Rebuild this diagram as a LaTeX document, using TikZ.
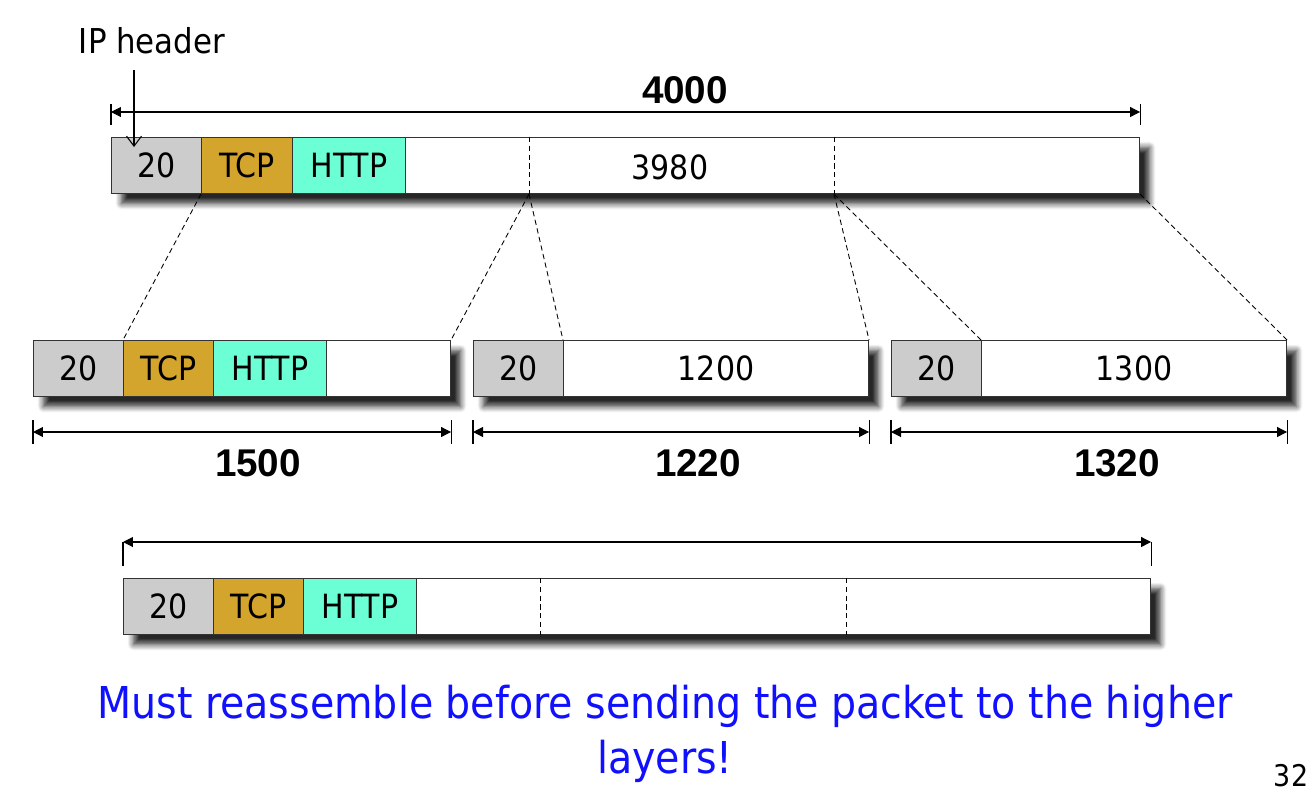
\documentclass[tikz,border=0pt]{standalone}
\usepackage{fontspec}
\setmainfont{DejaVu Sans Condensed}
\newfontfamily\numfont{Liberation Sans}
\usetikzlibrary{arrows.meta,positioning,shadows.blur}
\definecolor{hdrgray}{HTML}{CCCCCC}
\definecolor{tcpgold}{HTML}{D4A52C}
\definecolor{httpaqua}{HTML}{6CFFD6}
\definecolor{noteblue}{HTML}{1010FF}

\begin{document}
\begin{tikzpicture}[x=0.02cm,y=-0.02cm,every node/.style={font=\fontsize{19}{22}\selectfont}]
  \tikzset{
    pkt/.style={draw=black!80,fill=white,line width=0.6pt,inner sep=0pt,anchor=north west,minimum height=1.12cm,
      blur shadow={shadow xshift=0.2cm,shadow yshift=-0.2cm,shadow blur radius=0.12cm,shadow blur steps=8,shadow opacity=85}},
    seg/.style={draw=black!80,line width=0.6pt,inner sep=0pt,anchor=north west,minimum height=1.12cm},
    hdr/.style={seg,fill=hdrgray},
    tcp/.style={seg,fill=tcpgold},
    http/.style={seg,fill=httpaqua},
    data/.style={seg},
    split/.style={dash pattern=on 3pt off 2pt,line width=0.5pt},
    dim/.style={{Triangle[length=2mm,width=2mm]}-{Triangle[length=2mm,width=2mm]},line width=0.6pt},
    tick/.style={line width=0.6pt},
    size/.style={font=\numfont\bfseries\fontsize{22}{24}\selectfont}
  }
  \useasboundingbox (0,0) rectangle (1309,792);
  % packets with their shadows
  \foreach \name/\x/\y/\w in {p0/111/137/1028,p1/33/340/417,p2/473/340/395,p3/891/340/395,p4/123/578/1027}
    \node[pkt,minimum width=\w*0.02cm] (\name) at (\x,\y) {};
  % fields
  \foreach \name/\sty/\x/\y/\w/\txt in {h0/hdr/111/137/90/20,t0/tcp/201/137/91/TCP,w0/http/292/137/113/HTTP,
      h1/hdr/33/340/90/20,t1/tcp/123/340/90/TCP,w1/http/213/340/113/HTTP,
      h2/hdr/473/340/90/20,b2/data/563/340/305/1200,
      h3/hdr/891/340/90/20,b3/data/981/340/305/1300,
      h4/hdr/123/578/90/20,t4/tcp/213/578/90/TCP,w4/http/303/578/113/HTTP}
    \node[\sty,minimum width=\w*0.02cm] (\name) at (\x,\y) {\txt};
  \node (len0) at (670,167) {3980};
  % fragment borders inside the packets
  \foreach \name/\x/\p in {c0a/529/p0,c0b/834/p0,c4a/540/p4,c4b/846/p4}
    \coordinate (\name) at (\x,0 |- \p.north);
  \foreach \c/\p in {c0a/p0,c0b/p0,c4a/p4,c4b/p4}
    \draw[split] (\c) -- (\c |- \p.south);
  % where the fragments come from
  \draw[split] (t0.south west) -- (t1.north west);
  \draw[split] (c0a |- p0.south) -- (p1.north east);
  \draw[split] (c0a |- p0.south) -- (b2.north west);
  \draw[split] (c0b |- p0.south) -- (p2.north east);
  \draw[split] (c0b |- p0.south) -- (b3.north west);
  \draw[split] (p0.south east) -- (p3.north east);
  % lengths
  \foreach \p/\dy/\up/\down in {p0/-25/8/13,p1/92/12/12,p2/92/12/12,p3/92/12/12,p4/-36/0/24} {
    \path (\p.north west) ++(0,\dy) coordinate (\p l);
    \path (\p.north east) ++(0,\dy) coordinate (\p r);
    \draw[dim] (\p l) -- (\p r);
    \draw[tick] (\p l) ++(0,-\up) -- ++(0,\up+\down);
    \draw[tick] (\p r) ++(0,-\up) -- ++(0,\up+\down);
  }
  \node[size] (s0) at (685,90) {4000};
  \node[size] (s1) at (258,463) {1500};
  \node[size] (s2) at (698,463) {1220};
  \node[size] (s3) at (1117,463) {1320};
  % IP header pointer
  \node[font=\fontsize{19.5}{21}\selectfont] (iph) at (152,41) {IP header};
  \coordinate (ipt) at (134,70);
  \coordinate (iph0) at (134,147);
  \draw[-{Straight Barb[length=2mm,width=3mm]},line width=0.6pt] (ipt) -- (iph0);
  % note
  \node[align=center,text=noteblue,font=\fontsize{25}{31}\selectfont] (note) at (665,734)
    {Must reassemble before sending the packet to the higher\\layers!};
  \node[font=\fontsize{17}{19}\selectfont] (pg) at (1291,776) {32};
\end{tikzpicture}
\end{document}
